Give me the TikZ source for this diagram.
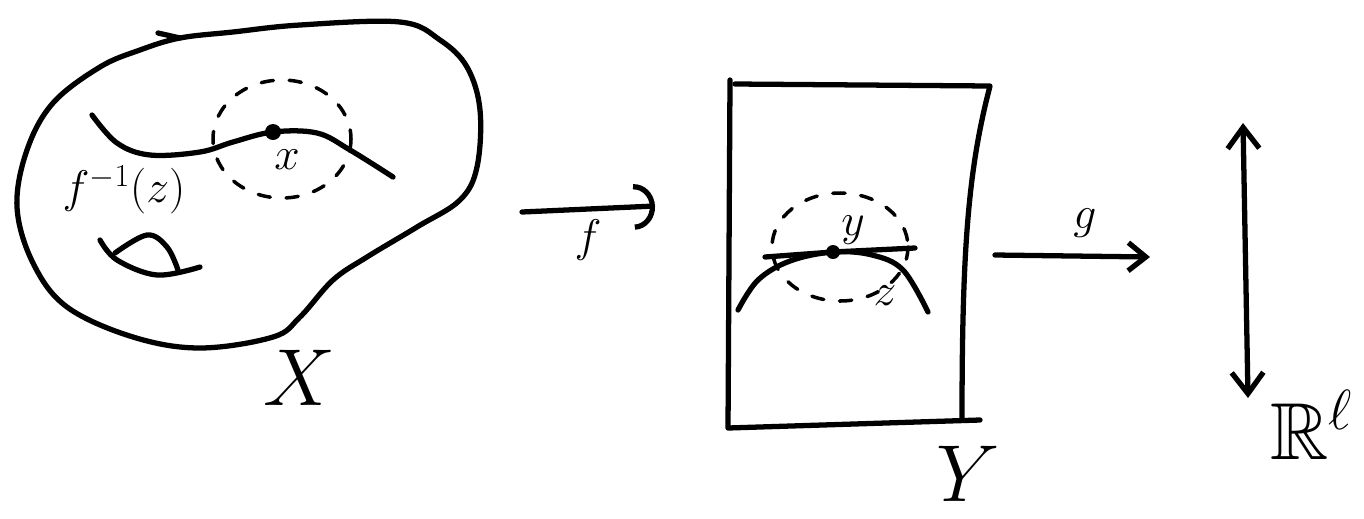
\documentclass[tikz,border=0pt]{standalone}
\usepackage{fix-cm}
\usepackage{amssymb}
\usetikzlibrary{arrows.meta}
\begin{document}
\begin{tikzpicture}[x=0.02cm, y=-0.02cm,
  pen/.style={line width=3pt, line cap=round, line join=round},
  dashpen/.style={line width=2pt, line cap=round, dash pattern=on 7pt off 9pt},
  small/.style={inner sep=0pt, font=\fontsize{26}{30}\selectfont},
  big/.style={inner sep=0pt, font=\fontsize{46}{52}\selectfont}]
  \useasboundingbox (0,0) rectangle (1364,518);
  % the space X
  \draw[pen] plot[smooth cycle, tension=0.6] coordinates {(180,38) (233,32) (300,25) (400,22)
    (440,40) (467,67) (480,110) (477,167) (460,200) (417,227) (367,257) (333,280)
    (300,317) (273,337) (200,348) (133,337) (67,307) (33,263) (17,207) (27,150)
    (53,103) (100,67) (140,50)};
  \draw[pen] (158,33) -- (180,38);
  \draw[pen] plot[smooth, tension=0.6] coordinates {(92,115) (117,143) (150,155) (200,152)
    (233,142) (273,132) (317,133) (350,150) (393,177)};
  \draw[dashpen] (282,139) ellipse [x radius=69, y radius=59];
  \fill (273,132) circle [radius=8];
  \node[small] (xpt) at (287,160) {$x$};
  \node[small] (fibre) at (124,190) {$f^{-1}(z)$};
  \draw[pen] plot[smooth, tension=0.6] coordinates {(100,240) (117,260) (157,275) (200,267)};
  \draw[pen] plot[smooth, tension=0.6] coordinates {(115,253) (147,235) (167,247) (178,270)};
  \node[big] (X) at (300,378) {$X$};
  % the map f
  \coordinate (fstart) at (522,212);
  \coordinate (fend) at (655,206);
  \draw[pen, -{Arc Barb[length=12pt, width=26pt, line width=3pt]}] (fstart) -- (fend);
  \node[small] (f) at (588,240) {$f$};
  % the space Y
  \draw[pen] (730,80) -- (728,428) -- (980,420);
  \draw[pen] (735,84) -- (990,86) .. controls (968,170) and (962,250) .. (962,420);
  \draw[pen] plot[smooth, tension=0.6] coordinates {(738,310) (758,280) (790,261) (833,252)
    (872,255) (903,270) (928,312)};
  \draw[pen] (765,257) -- (833,252) -- (915,248);
  \draw[dashpen] (840,247) ellipse [x radius=68, y radius=54];
  \fill (833,252) circle [radius=7];
  \node[small] (ypt) at (853,230) {$y$};
  \node[small] (z) at (885,296) {$z$};
  \node[big] (Y) at (968,474) {$Y$};
  % the map g
  \coordinate (gstart) at (995,255);
  \coordinate (gend) at (1150,257);
  \draw[pen, -{Straight Barb[length=10pt, width=16pt, line width=3pt]}] (gstart) -- (gend);
  \node[small] (g) at (1085,223) {$g$};
  % the target R^l
  \coordinate (rtop) at (1243,123);
  \coordinate (rbot) at (1248,398);
  \draw[pen, {Straight Barb[length=12pt, width=18pt, line width=3pt]}-{Straight Barb[length=12pt, width=18pt, line width=3pt]}]
    (rtop) -- (rbot);
  \node[big, anchor=west] (Rl) at (1270,425) {$\mathbb{R}^{\ell}$};
\end{tikzpicture}
\end{document}
